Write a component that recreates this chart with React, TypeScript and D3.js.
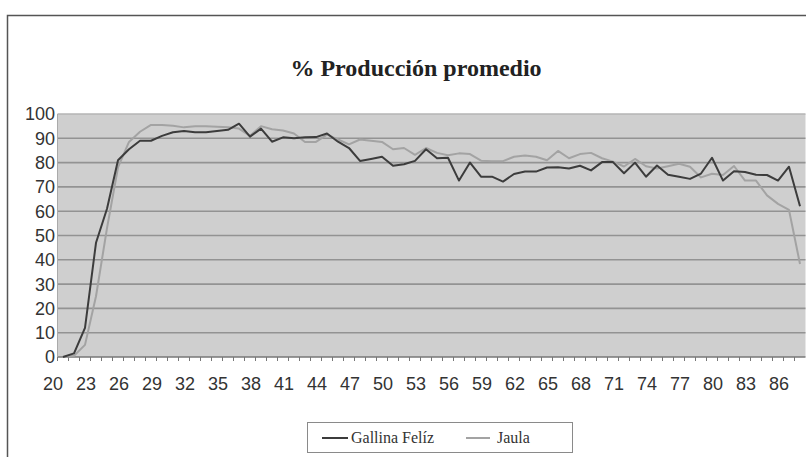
import React from "react";
import * as d3 from "d3";

const ages: number[] = d3.range(20, 88);
const gallinaFeliz: number[] = [
  0, 1.5, 12, 47, 61, 81, 85.5, 89, 89, 91,
  92.5, 93, 92.5, 92.5, 93, 93.5, 96, 90.7, 94, 88.6,
  90.4, 90, 90.4, 90.5, 92, 88.6, 86, 80.7, 81.5, 82.4,
  78.7, 79.3, 80.7, 85.5, 81.8, 82, 72.6, 80, 74.2, 74.2,
  72.2, 75.3, 76.3, 76.3, 78, 78.1, 77.6, 78.7, 76.8, 80.2,
  80.2, 75.6, 80, 74.2, 78.8, 75, 74.2, 73.3, 75.5, 82,
  72.6, 76.4, 76.1, 75, 74.9, 72.6, 78.3, 62,
];
const jaula: number[] = [
  0, 0.5, 5, 25, 53, 78, 88.5, 92.7, 95.5, 95.5,
  95.2, 94.5, 95, 95, 94.8, 94.5, 94, 91, 95, 93.7,
  93.2, 92, 88.5, 88.5, 91.5, 89.5, 87.5, 89.5, 89, 88.5,
  85.5, 86, 83.2, 86, 84, 83, 83.8, 83.5, 80.8, 80.6,
  80.6, 82.4, 82.9, 82.4, 81, 84.8, 81.8, 83.5, 84, 81.8,
  80.4, 78.4, 81.5, 78.5, 77.6, 78.5, 79.5, 78.3, 73.9, 75.4,
  74.9, 78.6, 72.6, 72.6, 66.5, 63, 60.5, 38.3,
];
const yTicks: number[] = d3.range(0, 101, 10);
const xLabels: number[] = d3.range(20, 87, 3);
const title = "% Producción promedio";
const seriesNames = ["Gallina Felíz", "Jaula"];

const W = 806;
const H = 457;
const plotLeft = 57.5;
const plotRight = 805.5;
const plotTop = 114;
const plotBottom = 357;

export default function App() {
  const x = d3
    .scaleBand<number>()
    .domain(ages)
    .range([plotLeft, plotRight])
    .padding(0);
  const step = x.bandwidth();
  const cx = (a: number) => (x(a) as number) + step / 2;
  const y = d3.scaleLinear().domain([0, 100]).range([plotBottom, plotTop]);

  const lineGen = (vals: number[]) =>
    d3
      .line<number>()
      .x((_, i) => cx(ages[i]))
      .y((v) => y(v))(vals) as string;

  const sans = "Liberation Sans, Arial, sans-serif";
  const serif = "Liberation Serif, DejaVu Serif, Times New Roman, serif";

  return (
    <svg
      width={W}
      height={H}
      style={{ position: "absolute", left: 0, top: 0, background: "#fff" }}
    >
      <rect x={0} y={0} width={W} height={H} fill="#fff" />
      <rect
        x={7.5}
        y={15.5}
        width={900}
        height={600}
        fill="none"
        stroke="#555"
        strokeWidth={1.5}
      />
      <text
        x={416}
        y={76}
        textAnchor="middle"
        style={{ fontFamily: serif, fontWeight: 700, fontSize: "24px" }}
        fill="#222"
      >
        {title}
      </text>
      <rect
        x={plotLeft}
        y={plotTop}
        width={plotRight - plotLeft}
        height={plotBottom - plotTop}
        fill="#cfcfcf"
      />
      {yTicks.map((t) => (
        <line
          key={"g" + t}
          x1={plotLeft}
          x2={plotRight}
          y1={y(t)}
          y2={y(t)}
          stroke={t === 100 ? "#b4b4b4" : t === 0 ? "#777" : "#939393"}
          strokeWidth={1.6}
        />
      ))}
      <line x1={plotLeft} x2={plotLeft} y1={plotTop} y2={plotBottom} stroke="#aaa" strokeWidth={1} />
      {ages.map((a) => (
        <line
          key={"t" + a}
          x1={x(a) as number}
          x2={x(a) as number}
          y1={plotBottom}
          y2={plotBottom + 4}
          stroke="#777"
          strokeWidth={1}
        />
      ))}
      {yTicks.map((t) => (
        <text
          key={"yl" + t}
          x={55}
          y={y(t)}
          dy="0.36em"
          textAnchor="end"
          style={{ fontFamily: sans, fontSize: "18px" }}
          fill="#333"
        >
          {t}
        </text>
      ))}
      {xLabels.map((a) => (
        <text
          key={"xl" + a}
          x={cx(a) - 10}
          y={390}
          textAnchor="middle"
          style={{ fontFamily: sans, fontSize: "18px" }}
          fill="#333"
        >
          {a}
        </text>
      ))}
      <path d={lineGen(jaula)} fill="none" stroke="#a3a3a3" strokeWidth={2} strokeLinejoin="round" />
      <path d={lineGen(gallinaFeliz)} fill="none" stroke="#3c3c3c" strokeWidth={2} strokeLinejoin="round" />
      <g>
        <rect x={307.5} y={422.5} width={265} height={30} fill="#fff" stroke="#8a8a8a" strokeWidth={1} />
        <line x1={322} x2={348} y1={438} y2={438} stroke="#3c3c3c" strokeWidth={2} />
        <text x={351} y={443} style={{ fontFamily: serif, fontSize: "16px" }} fill="#333">
          {seriesNames[0]}
        </text>
        <line x1={466} x2={490} y1={438} y2={438} stroke="#a3a3a3" strokeWidth={2} />
        <text x={497} y={443} style={{ fontFamily: serif, fontSize: "16px" }} fill="#333">
          {seriesNames[1]}
        </text>
      </g>
    </svg>
  );
}
